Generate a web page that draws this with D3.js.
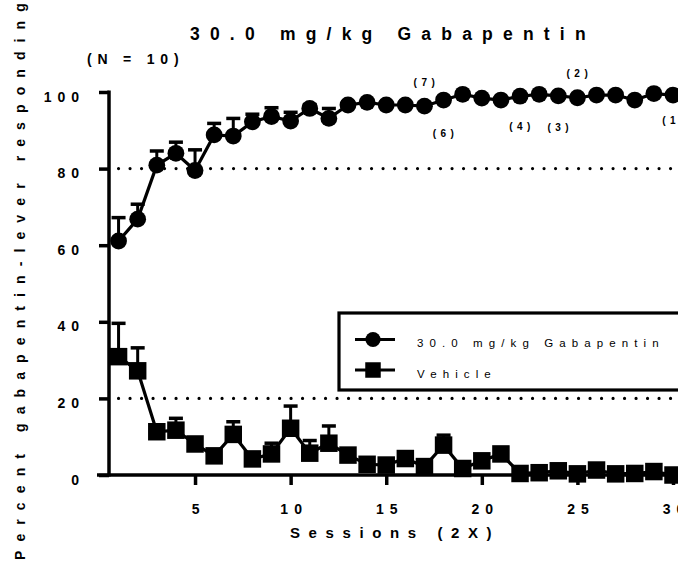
<!DOCTYPE html>
<html>
<head>
<meta charset="utf-8">
<script src="https://cdn.jsdelivr.net/npm/d3@7"></script>
<style>
  html, body { margin: 0; padding: 0; background: #fff; }
  svg { display: block; }
  text { font-family: "Liberation Sans", Arial, sans-serif; fill: #000; }
</style>
</head>
<body>
<svg id="chart" width="678" height="569"></svg>
<script>
// Session numbers (each session run twice)
const sessions = [1,2,3,4,5,6,7,8,9,10,11,12,13,14,15,16,17,18,19,20,21,22,23,24,25,26,27,28,29,30];

// Mean percent gabapentin-lever responding and SEM, 30.0 mg/kg Gabapentin
const gabapentinMean = [61.1, 66.8, 80.9, 84.0, 79.5, 88.8, 88.5, 92.2, 93.6, 92.4, 95.7, 93.1, 96.6, 97.3, 96.6,
                        96.6, 96.3, 97.9, 99.4, 98.4, 97.9, 98.9, 99.4, 99.0, 98.5, 99.2, 99.2, 97.9, 99.6, 99.2];
const gabapentinSem  = [6.1, 3.9, 3.7, 2.9, 5.4, 3.0, 4.6, 2.0, 2.3, 2.3, 1.0, 2.6, 0.8, 0.6, 0.7,
                        0.7, 0.8, 0.5, 0.3, 0.5, 0.5, 0.4, 0.3, 0.4, 0.5, 0.3, 0.3, 0.5, 0.2, 0.3];

// Mean percent gabapentin-lever responding and SEM, Vehicle
const vehicleMean = [30.9, 27.2, 11.3, 11.7, 8.1, 5.0, 10.6, 4.2, 5.5, 12.2, 5.7, 8.3, 5.2, 2.8, 2.6,
                     4.3, 2.2, 7.8, 1.7, 3.7, 5.5, 0.4, 0.6, 1.1, 0.3, 1.3, 0.3, 0.4, 0.9, 0.0];
const vehicleSem  = [8.7, 6.0, 1.5, 3.1, 1.5, 1.2, 3.3, 1.0, 2.8, 5.8, 3.3, 4.5, 1.2, 0.8, 0.8,
                     1.5, 0.6, 2.6, 0.5, 1.2, 1.5, 0.3, 0.4, 0.5, 0.2, 0.6, 0.2, 0.3, 0.5, 0.0];

// Axis ticks and criterion lines
const yTicks = [0, 20, 40, 60, 80, 100];
const xTicks = [5, 10, 15, 20, 25, 30];
const criterionLevels = [80, 20];

// Number of subjects shown at individual sessions
const nSessions = [17, 18, 22, 24, 25, 30];
const nLabels   = ["(7)", "(6)", "(4)", "(3)", "(2)", "(1)"];

const seriesNames = ["30.0 mg/kg Gabapentin", "Vehicle"];
const titleText = "30.0 mg/kg Gabapentin";
const subtitleText = "(N = 10)";
const xLabel = "Sessions (2X)";
const yLabel = "Percent gabapentin-lever responding";

// ---------------------------------------------------------------
const svg = d3.select("#chart");

const x = d3.scaleLinear().domain([0.5, 30]).range([109, 673]);
const y = d3.scaleLinear().domain([0, 100]).range([475, 92]);

const FONT_BOLD = "bold";

// Criterion (dotted) lines
svg.append("g").selectAll("line")
  .data(criterionLevels)
  .join("line")
    .attr("x1", x(1)).attr("x2", 690)
    .attr("y1", d => y(d)).attr("y2", d => y(d))
    .attr("stroke", "#000")
    .attr("stroke-width", 3.2)
    .attr("stroke-linecap", "round")
    .attr("stroke-dasharray", "0 11.5");

// Y axis
const yAxis = d3.axisLeft(y).tickValues(yTicks).tickSize(10).tickFormat("").tickSizeOuter(0);
const gy = svg.append("g").attr("transform", "translate(109,0)").call(yAxis);
gy.select(".domain").attr("stroke-width", 3.5).attr("d", `M0,${y(0) + 1.5}V${y(100) - 1.5}`);
gy.selectAll(".tick line").attr("stroke-width", 3.5);

gy.selectAll(".tick").append("text")
  .attr("x", -24).attr("y", 9)
  .attr("text-anchor", "end")
  .style("font-size", "14px").style("font-weight", FONT_BOLD)
  .style("letter-spacing", "6px")
  .text(d => d);

// X axis
const xAxis = d3.axisBottom(x).tickValues(xTicks).tickSize(10).tickFormat("").tickSizeOuter(0);
const gx = svg.append("g").attr("transform", `translate(0,${y(0)})`).call(xAxis);
gx.select(".domain").attr("stroke-width", 3.5).attr("d", `M97,0H690`);
gx.selectAll(".tick line").attr("stroke-width", 3.5);

gx.selectAll(".tick").append("text")
  .attr("x", 3).attr("y", 39)
  .attr("text-anchor", "middle")
  .style("font-size", "14px").style("font-weight", FONT_BOLD)
  .style("letter-spacing", "6px")
  .text(d => d);

// Series drawing helpers
function drawSeries(means, sems, symbol) {
  const data = sessions.map((s, i) => ({ s, m: means[i], e: sems[i] }));
  const g = svg.append("g");

  // SEM bars (upper)
  const eb = g.append("g").selectAll("g").data(data).join("g");
  eb.append("line")
    .attr("x1", d => x(d.s)).attr("x2", d => x(d.s))
    .attr("y1", d => y(d.m)).attr("y2", d => y(d.m + d.e))
    .attr("stroke", "#000").attr("stroke-width", 3);
  eb.append("line")
    .attr("x1", d => x(d.s) - 7).attr("x2", d => x(d.s) + 7)
    .attr("y1", d => y(d.m + d.e)).attr("y2", d => y(d.m + d.e))
    .attr("stroke", "#000").attr("stroke-width", 3.5);

  // connecting line
  g.append("path")
    .datum(data)
    .attr("fill", "none").attr("stroke", "#000").attr("stroke-width", 3.2)
    .attr("stroke-linejoin", "miter")
    .attr("d", d3.line().x(d => x(d.s)).y(d => y(d.m)));

  // markers
  g.append("g").selectAll("path").data(data).join("path")
    .attr("transform", d => `translate(${x(d.s)},${y(d.m)})`)
    .attr("d", symbol)
    .attr("fill", "#000");
}

const circleSym = d3.symbol().type(d3.symbolCircle).size(Math.PI * 8.4 * 8.4)();
const squareSym = d3.symbol().type(d3.symbolSquare).size(17.5 * 17.5)();

drawSeries(vehicleMean, vehicleSem, squareSym);
drawSeries(gabapentinMean, gabapentinSem, circleSym);

// Subject-count labels
const nOffsets = { "(7)": -20, "(6)": 37, "(4)": 34, "(3)": 35, "(2)": -21, "(1)": 29 };
svg.append("g").selectAll("text")
  .data(nSessions.map((s, i) => ({ s, label: nLabels[i], v: gabapentinMean[s - 1] })))
  .join("text")
    .attr("x", d => x(d.s) + 2)
    .attr("y", d => y(d.v) + nOffsets[d.label])
    .attr("text-anchor", "middle")
    .style("font-size", "10px").style("font-weight", FONT_BOLD)
    .style("letter-spacing", "4.5px")
    .text(d => d.label);

// Legend
const legend = svg.append("g");
legend.append("rect")
  .attr("x", 339).attr("y", 313).attr("width", 400).attr("height", 77)
  .attr("fill", "#fff").attr("stroke", "#000").attr("stroke-width", 3.2);
const legendRows = [
  { name: seriesNames[0], sym: d3.symbol().type(d3.symbolCircle).size(Math.PI * 7.6 * 7.6)(), cy: 339.5 },
  { name: seriesNames[1], sym: d3.symbol().type(d3.symbolSquare).size(15.5 * 15.5)(), cy: 370 }
];
const lr = legend.selectAll("g.row").data(legendRows).join("g").attr("class", "row");
lr.append("line")
  .attr("x1", 355).attr("x2", 395)
  .attr("y1", d => d.cy).attr("y2", d => d.cy)
  .attr("stroke", "#000").attr("stroke-width", 3.2);
lr.append("path")
  .attr("transform", d => `translate(373,${d.cy})`)
  .attr("d", d => d.sym).attr("fill", "#000");
lr.append("text")
  .attr("x", 417).attr("y", d => d.cy + 7.5)
  .style("font-size", "11.5px")
  .style("letter-spacing", "6.1px")
  .text(d => d.name);

// Title and subtitle
svg.append("text")
  .attr("x", 190).attr("y", 39.5)
  .style("font-size", "17.5px").style("font-weight", FONT_BOLD)
  .style("letter-spacing", "10.2px")
  .text(titleText);

svg.append("text")
  .attr("x", 87).attr("y", 64)
  .style("font-size", "14px").style("font-weight", FONT_BOLD)
  .style("letter-spacing", "5.8px")
  .text(subtitleText);

// Axis titles
svg.append("text")
  .attr("x", 290).attr("y", 538)
  .style("font-size", "15px").style("font-weight", FONT_BOLD)
  .style("letter-spacing", "8.6px")
  .text(xLabel);

svg.append("text")
  .attr("transform", "translate(25,560) rotate(-90)")
  .style("font-size", "14px").style("font-weight", FONT_BOLD)
  .style("letter-spacing", "9.1px")
  .text(yLabel);
</script>
</body>
</html>
